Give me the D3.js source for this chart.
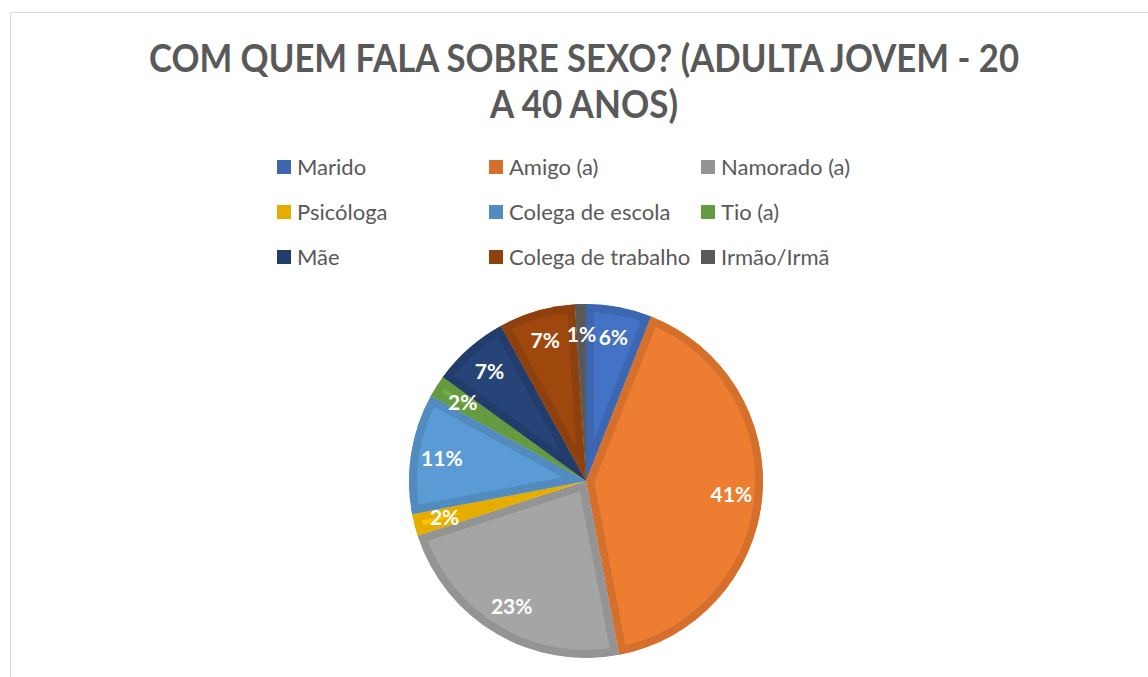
<!DOCTYPE html>
<html>
<head>
<meta charset="utf-8">
<script src="https://cdn.jsdelivr.net/npm/d3@7"></script>
<style>
  html, body { margin: 0; padding: 0; background: #fff; }
  svg { display: block; }
</style>
</head>
<body>
<div id="chart"></div>
<script>
// data
const categories = ["Marido", "Amigo (a)", "Namorado (a)", "Psicóloga", "Colega de escola", "Tio (a)", "Mãe", "Colega de trabalho", "Irmão/Irmã"];
const values = [6, 41, 23, 2, 11, 2, 7, 7, 1];
const colors = ["#4472C4", "#ED7D31", "#A5A5A5", "#FFC000", "#5B9BD5", "#70AD47", "#264478", "#9E480E", "#636363"];
const titleLines = ["COM QUEM FALA SOBRE SEXO? (ADULTA JOVEM - 20", "A 40 ANOS)"];
const titleWidths = [870, 188];

const width = 1148, height = 677;
const cx = 586, cy = 481, radius = 177;

const svg = d3.select("#chart").append("svg")
  .attr("width", width)
  .attr("height", height);

// chart frame
svg.append("rect")
  .attr("x", 10.5).attr("y", 12.5)
  .attr("width", width + 20).attr("height", height + 20)
  .attr("fill", "#fff")
  .attr("stroke", "#d9d9d9")
  .attr("stroke-width", 1);

// title
svg.append("g").selectAll("text")
  .data(titleLines)
  .join("text")
  .attr("x", 584)
  .attr("y", (d, i) => 72 + i * 46)
  .attr("text-anchor", "middle")
  .attr("font-family", "Lato, 'Open Sans', sans-serif")
  .attr("font-weight", "bold")
  .attr("font-size", 39)
  .attr("fill", "#595959")
  .attr("textLength", (d, i) => titleWidths[i])
  .attr("lengthAdjust", "spacingAndGlyphs")
  .text(d => d);

// legend
const colX = [277, 489, 701];
const rowY = [167, 212, 257];
const legend = svg.append("g").selectAll("g")
  .data(categories)
  .join("g")
  .attr("transform", (d, i) => `translate(${colX[i % 3]},${rowY[Math.floor(i / 3)]})`);

legend.append("rect")
  .attr("x", 0).attr("y", -7)
  .attr("width", 14).attr("height", 14)
  .attr("fill", (d, i) => d3.color(colors[i]).darker(0.3));

legend.append("text")
  .attr("x", 20)
  .attr("y", 0)
  .attr("dy", "0.35em")
  .attr("font-family", "Lato, 'Open Sans', sans-serif")
  .attr("font-size", 22)
  .attr("fill", "#595959")
  .text(d => d);

// pie
const pie = d3.pie().sort(null).value(d => d);
const arcs = pie(values);
const arc = d3.arc().innerRadius(0).outerRadius(radius);
const labelArc = d3.arc().innerRadius(146).outerRadius(146);

const g = svg.append("g").attr("transform", `translate(${cx},${cy})`);

const defs = svg.append("defs");
defs.selectAll("clipPath")
  .data(arcs)
  .join("clipPath")
  .attr("id", (d, i) => "clip" + i)
  .append("path")
  .attr("d", arc);

g.selectAll("path.slice")
  .data(arcs)
  .join("path")
  .attr("class", "slice")
  .attr("d", arc)
  .attr("fill", (d, i) => colors[i])
  .attr("stroke", (d, i) => d3.color(colors[i]).darker(0.3))
  .attr("stroke-width", 16)
  .attr("stroke-linejoin", "miter")
  .attr("clip-path", (d, i) => `url(#clip${i})`);

g.selectAll("text.label")
  .data(arcs)
  .join("text")
  .attr("class", "label")
  .attr("transform", d => `translate(${labelArc.centroid(d)})`)
  .attr("text-anchor", "middle")
  .attr("dy", "0.35em")
  .attr("font-family", "Lato, 'Open Sans', sans-serif")
  .attr("font-weight", "bold")
  .attr("font-size", 21)
  .attr("fill", "#fff")
  .text(d => d.data + "%");
</script>
</body>
</html>
